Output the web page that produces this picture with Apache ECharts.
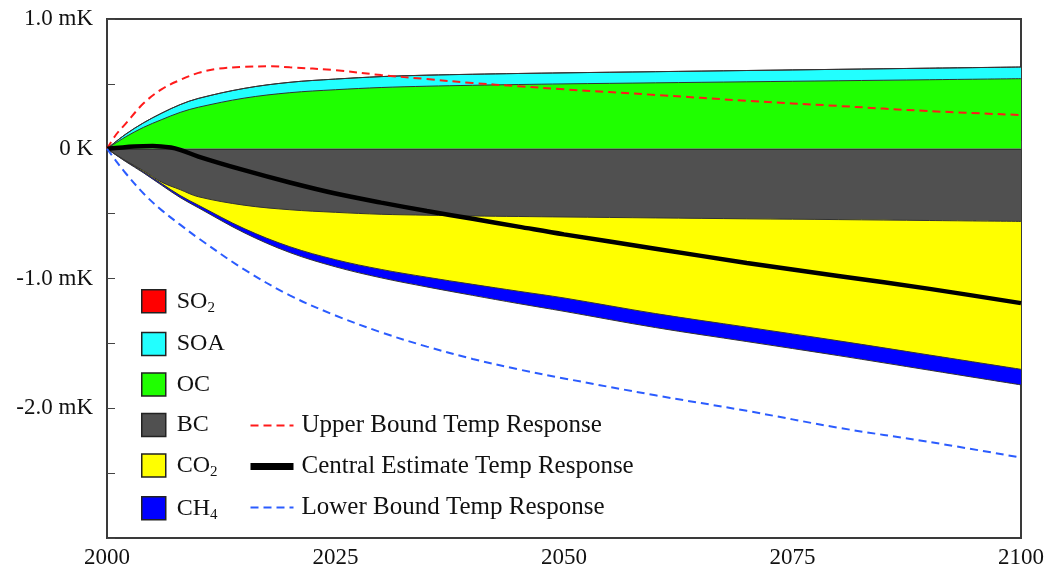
<!DOCTYPE html>
<html>
<head>
<meta charset="utf-8">
<script src="https://cdn.jsdelivr.net/npm/echarts@6/dist/echarts.min.js"></script>
<style>
  html, body { margin: 0; padding: 0; background: #fff; }
  #chart { width: 1047px; height: 569px; }
</style>
</head>
<body>
<div id="chart"></div>
<script>
// Years shared by the stacked contribution areas
const years = [2000, 2002, 2004, 2006, 2008, 2010, 2015, 2020, 2025, 2030, 2035, 2040, 2045, 2050, 2060, 2070, 2080, 2090, 2100];

// Warming contributions (mK), stacked above zero: OC, then SOA, then SO2
const so2 = [0, 0, 0, 0, 0, 0, 0, 0, 0, 0, 0, 0, 0, 0, 0, 0, 0, 0, 0];
const soa = [0, 0.02, 0.035, 0.05, 0.06, 0.068, 0.075, 0.08, 0.082, 0.084, 0.085, 0.085, 0.085, 0.085, 0.086, 0.087, 0.088, 0.089, 0.09];
const oc  = [0, 0.09, 0.165, 0.225, 0.28, 0.32, 0.39, 0.432, 0.455, 0.472, 0.482, 0.489, 0.495, 0.5, 0.508, 0.516, 0.524, 0.532, 0.54];

// Cooling contributions (mK), stacked below zero: BC, then CO2, then CH4
const bc  = [0, -0.09, -0.17, -0.258, -0.315, -0.37, -0.435, -0.47, -0.49, -0.505, -0.512, -0.518, -0.522, -0.526, -0.533, -0.54, -0.546, -0.553, -0.56];
const co2 = [0, -0.003, -0.008, -0.012, -0.045, -0.065, -0.18, -0.285, -0.365, -0.425, -0.478, -0.527, -0.576, -0.624, -0.737, -0.835, -0.934, -1.037, -1.14];
const ch4 = [0, -0.004, -0.008, -0.012, -0.016, -0.02, -0.032, -0.045, -0.055, -0.065, -0.075, -0.085, -0.095, -0.103, -0.108, -0.111, -0.114, -0.117, -0.12];

// Temperature response curves (mK)
const upperYears = [2000, 2001, 2002, 2004, 2006, 2008, 2010, 2012, 2015, 2018, 2020, 2025, 2030, 2035, 2040, 2045, 2050, 2060, 2070, 2080, 2090, 2100];
const upper      = [0, 0.11, 0.19, 0.35, 0.46, 0.53, 0.585, 0.615, 0.632, 0.635, 0.628, 0.605, 0.568, 0.537, 0.507, 0.482, 0.458, 0.415, 0.37, 0.33, 0.29, 0.26];

const centralYears = [2000, 2003, 2005, 2007, 2008, 2010, 2015, 2020, 2025, 2030, 2035, 2040, 2045, 2050, 2060, 2070, 2080, 2090, 2100];
const central      = [0, 0.018, 0.022, 0.01, -0.008, -0.06, -0.165, -0.26, -0.345, -0.415, -0.48, -0.54, -0.6, -0.66, -0.77, -0.88, -0.98, -1.08, -1.19];

const lowerYears = [2000, 2001, 2002, 2004, 2006, 2008, 2010, 2015, 2020, 2025, 2030, 2035, 2040, 2045, 2050, 2060, 2070, 2080, 2090, 2100];
const lower      = [0, -0.095, -0.185, -0.345, -0.475, -0.585, -0.69, -0.93, -1.13, -1.285, -1.415, -1.525, -1.62, -1.7, -1.77, -1.9, -2.02, -2.15, -2.26, -2.38];

// Axis ticks and labels
const xTicks = [2000, 2025, 2050, 2075, 2100];
const yTicks = [1, 0, -1, -2];
const yTickText = ['1.0 mK', '0 K', '-1.0 mK', '-2.0 mK'];

const FONT = 'Liberation Serif';

// Running totals: each band is drawn as an area from zero to its stacked edge,
// outermost first so the inner bands paint over it.
function cumulative(...layers) {
  return years.map((_, i) => layers.reduce((s, l) => s + l[i], 0));
}
const edgeOC  = cumulative(oc);
const edgeSOA = cumulative(oc, soa);
const edgeSO2 = cumulative(oc, soa, so2);
const edgeBC  = cumulative(bc);
const edgeCO2 = cumulative(bc, co2);
const edgeCH4 = cumulative(bc, co2, ch4);

const pairs = (xs, ys) => xs.map((x, i) => [x, ys[i]]);

function bandSeries(name, edge, color) {
  return {
    name: name,
    type: 'line',
    smooth: 0.35,
    symbol: 'none',
    data: pairs(years, edge),
    color: color,
    lineStyle: { color: '#333', width: 1 },
    areaStyle: { color: color, opacity: 1, origin: 0 },
    z: 2
  };
}

function lineSeries(name, xs, ys, color, width, type) {
  return {
    name: name,
    type: 'line',
    smooth: 0.35,
    symbol: 'none',
    data: pairs(xs, ys),
    color: color,
    lineStyle: { color: color, width: width, type: type },
    z: 5
  };
}

const ocSeries = bandSeries('OC', edgeOC, '#1fff00');
ocSeries.markLine = {
  silent: true,
  symbol: 'none',
  label: { show: false },
  lineStyle: { color: '#333', width: 1, type: 'solid' },
  data: [{ yAxis: 0 }]
};

const chart = echarts.init(document.getElementById('chart'), null, { renderer: 'canvas' });

const rich = { sub: { fontFamily: FONT, fontSize: 15, padding: [14, 0, 0, 0], color: '#111' } };
const nameText = { 'SO2': 'SO{sub|2}', 'CO2': 'CO{sub|2}', 'CH4': 'CH{sub|4}' };
const boxBorder = { borderColor: '#222', borderWidth: 1.5 };
const hideMarker = { opacity: 0 };

chart.setOption({
  animation: false,
  backgroundColor: '#fff',
  textStyle: { fontFamily: FONT },
  grid: { left: 107, right: 24, top: 19, bottom: 30, show: true, borderColor: '#3a3a3a', borderWidth: 2, backgroundColor: 'transparent' },
  xAxis: {
    type: 'value',
    min: 2000, max: 2100, interval: 25,
    axisLine: { show: true, lineStyle: { color: '#3a3a3a', width: 2 } },
    axisTick: { show: true, inside: true, length: 8, lineStyle: { color: '#444', width: 1 } },
    splitLine: { show: false },
    axisLabel: {
      margin: 8, fontSize: 23, fontFamily: FONT, color: '#111',
      formatter: v => xTicks.includes(v) ? String(v) : ''
    }
  },
  yAxis: {
    type: 'value',
    min: -3, max: 1, interval: 0.5,
    axisLine: { show: true, lineStyle: { color: '#3a3a3a', width: 2 } },
    axisTick: { show: true, inside: true, length: 8, lineStyle: { color: '#444', width: 1 } },
    splitLine: { show: false },
    axisLabel: {
      margin: 14, fontSize: 23, fontFamily: FONT, color: '#111',
      formatter: v => {
        const i = yTicks.findIndex(t => Math.abs(t - v) < 1e-9);
        return i >= 0 ? yTickText[i] : '';
      }
    }
  },
  legend: [
    {
      orient: 'vertical',
      left: 141, top: 289,
      padding: 0,
      itemWidth: 24, itemHeight: 23,
      itemGap: 16,
      selectedMode: false,
      textStyle: { fontFamily: FONT, fontSize: 24, color: '#111', padding: [0, 0, 0, 6], rich: rich },
      formatter: n => nameText[n] || n,
      data: [
        { name: 'SO2', icon: 'rect', itemStyle: Object.assign({ color: '#ff0000' }, boxBorder) },
        { name: 'SOA', icon: 'rect', itemStyle: Object.assign({ color: '#22ffff' }, boxBorder) },
        { name: 'OC',  icon: 'rect', itemStyle: Object.assign({ color: '#1fff00' }, boxBorder) },
        { name: 'BC',  icon: 'rect', itemStyle: Object.assign({ color: '#505050' }, boxBorder) },
        { name: 'CO2', icon: 'rect', itemStyle: Object.assign({ color: '#ffff00' }, boxBorder) },
        { name: 'CH4', icon: 'rect', itemStyle: Object.assign({ color: '#0000ff' }, boxBorder) }
      ]
    },
    {
      orient: 'vertical',
      left: 247, top: 413,
      padding: 0,
      itemWidth: 43, itemHeight: 14,
      itemGap: 16,
      selectedMode: false,
      textStyle: { fontFamily: FONT, fontSize: 25, color: '#111', padding: [0, 0, 0, 3] },
      data: [
        { name: 'Upper Bound Temp Response', itemStyle: hideMarker },
        { name: 'Central Estimate Temp Response', itemStyle: hideMarker, lineStyle: { width: 7 } },
        { name: 'Lower Bound Temp Response', itemStyle: hideMarker }
      ]
    }
  ],
  series: [
    bandSeries('SO2', edgeSO2, '#ff0000'),
    bandSeries('SOA', edgeSOA, '#22ffff'),
    ocSeries,
    bandSeries('CH4', edgeCH4, '#0000ff'),
    bandSeries('CO2', edgeCO2, '#ffff00'),
    bandSeries('BC', edgeBC, '#505050'),
    lineSeries('Upper Bound Temp Response', upperYears, upper, '#ff1a1a', 2, [8, 5]),
    lineSeries('Central Estimate Temp Response', centralYears, central, '#000000', 4.5, 'solid'),
    lineSeries('Lower Bound Temp Response', lowerYears, lower, '#2b5cff', 2, [8, 5])
  ]
});
</script>
</body>
</html>
